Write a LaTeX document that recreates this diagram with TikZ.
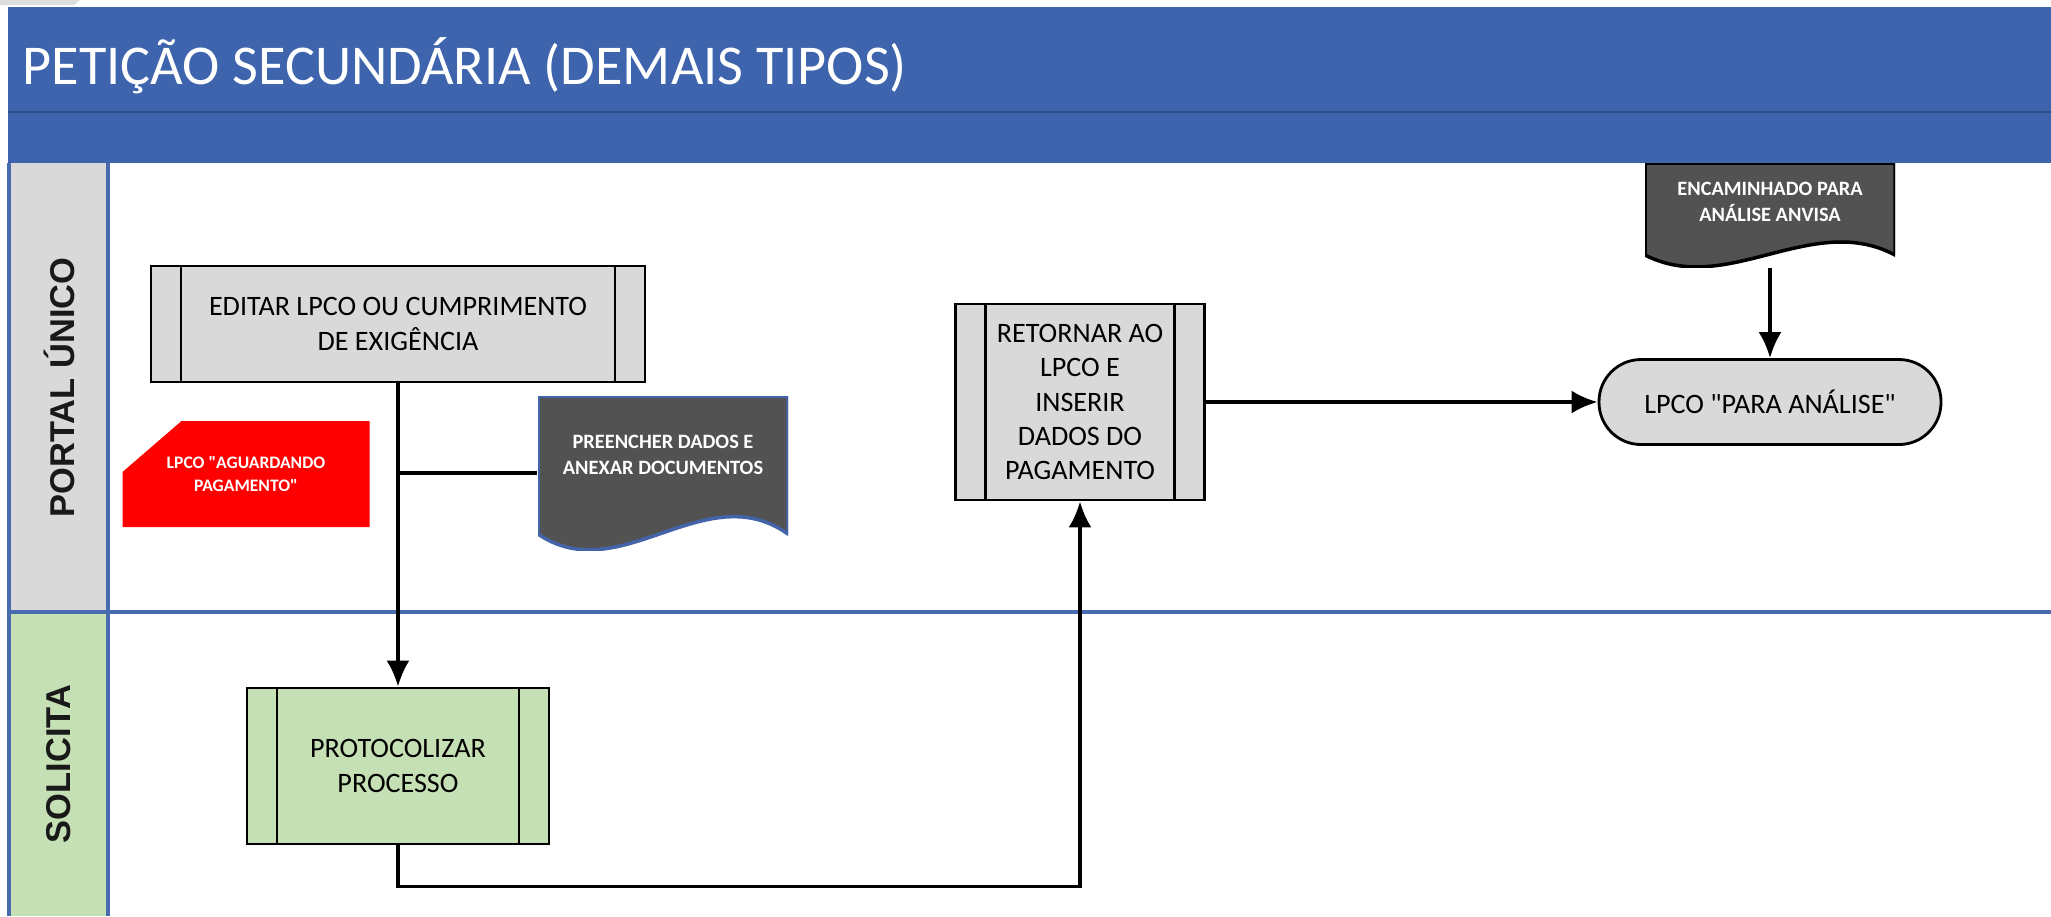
\documentclass[tikz,border=0pt]{standalone}
\usepackage{fontspec}
\setmainfont{Carlito}
\newfontfamily\lanefont{Liberation Sans}
\usepackage{tikz}
\usetikzlibrary{arrows.meta}
\usetikzlibrary{calc}
\tikzset{>={Latex[length=2.6mm,width=2.3mm]}}
\definecolor{headblue}{RGB}{62,100,173}
\definecolor{headline}{RGB}{46,76,138}
\definecolor{laneblue}{RGB}{72,106,174}
\definecolor{lanegrey}{RGB}{217,217,217}
\definecolor{lanegreen}{RGB}{197,224,180}
\definecolor{docgrey}{RGB}{82,82,82}
\definecolor{docedge}{RGB}{68,100,170}
\definecolor{tabgrey}{RGB}{221,221,221}
\tikzset{
    subproc/.style={draw, line width=0.8pt, fill=lanegrey, align=center, inner sep=0pt,
        font=\fontsize{8}{10}\selectfont,
        path picture={
            \draw[line width=0.8pt] ([xshift=3mm]path picture bounding box.north west) -- ([xshift=3mm]path picture bounding box.south west);
            \draw[line width=0.8pt] ([xshift=-3mm]path picture bounding box.north east) -- ([xshift=-3mm]path picture bounding box.south east);
        }},
    doc/.style 2 args={text=white, align=center, inner sep=0pt,
        font=\bfseries\fontsize{5.8}{7.4}\selectfont,
        path picture={
            \filldraw[fill=docgrey, draw=#1, line width=1pt] (path picture bounding box.north west)
                -- (path picture bounding box.north east)
                -- ($(path picture bounding box.south east)+(0,-16*#2)$)
                .. controls ($(path picture bounding box.south east)+(-83,-75*#2)$) and ($(path picture bounding box.south west)+(82,40*#2)$)
                .. ($(path picture bounding box.south west)+(0,-16*#2)$) -- cycle;
        }},
    status/.style={text=white, align=center, inner sep=0pt,
        font=\bfseries\fontsize{5}{6.3}\selectfont,
        path picture={
            \fill[red] ($(path picture bounding box.north west)+(59,0)$)
                -- (path picture bounding box.north east)
                -- (path picture bounding box.south east)
                -- (path picture bounding box.south west)
                -- ($(path picture bounding box.north west)+(0,51)$) -- cycle;
        }},
    terminal/.style={draw, line width=0.8pt, fill=lanegrey, rounded corners=4.2mm,
        font=\fontsize{8}{10}\selectfont},
    lanelabel/.style={rotate=90, text=black!90, font=\lanefont\bfseries\fontsize{9.8}{12}\selectfont},
    lane/.style={draw=laneblue, line width=0.9pt},
    flow/.style={draw=black, line width=1pt}
}

\begin{document}
\begin{tikzpicture}[x=0.1mm, y=-0.1mm]
    \useasboundingbox (0,0) rectangle (2051,916);
    %header
    \fill[tabgrey] (0,0) -- (80,0) -- (74,5) -- (0,5) -- cycle;
    \fill[headblue] (8,7) rectangle (2051,163);
    \draw[headline, line width=0.6pt] (8,112) -- (2051,112);
    \node[anchor=base west, inner sep=0pt, text=white, font=\fontsize{16}{19}\selectfont] (title) at (22,84) {PETIÇÃO SECUNDÁRIA (DEMAIS TIPOS)};
    %lanes
    \foreach \i/\lab/\ya/\yb/\col in {1/PORTAL ÚNICO/163/612/lanegrey, 2/SOLICITA/612/916/lanegreen}
    {
        \fill[\col] (9,\ya) rectangle (108,\yb);
        \node[lanelabel] (lane\i) at (59,{(\ya+\yb)/2}) {\lab};
    }
    \draw[lane] (9,163) -- (9,916);
    \draw[lane] (108,163) -- (108,916);
    \draw[lane] (9,612) -- (2051,612);
    %steps
    \node[subproc, minimum width=49.4mm, minimum height=11.6mm] (editar) at (398,324) {EDITAR LPCO OU CUMPRIMENTO\\DE EXIGÊNCIA};
    \node[status, minimum width=24.7mm, minimum height=10.6mm] (aguard) at (246,474) {LPCO \textquotedbl AGUARDANDO\\PAGAMENTO\textquotedbl};
    \node[doc={docedge}{1}, minimum width=25mm, minimum height=15.4mm, text depth=3.6mm] (preench) at (663,473) {PREENCHER DADOS E\\ANEXAR DOCUMENTOS};
    \node[subproc, minimum width=30.2mm, minimum height=15.6mm, fill=lanegreen] (protoc) at (398,766) {PROTOCOLIZAR\\PROCESSO};
    \node[subproc, minimum width=24.9mm, minimum height=19.6mm, font=\fontsize{8}{9.8}\selectfont] (retornar) at (1080,402) {RETORNAR AO\\LPCO E\\INSERIR\\DADOS DO\\PAGAMENTO};
    \node[terminal, minimum width=34.2mm, minimum height=8.5mm] (analise) at (1770,402) {LPCO \textquotedbl PARA ANÁLISE\textquotedbl};
    \node[doc={black}{0.75}, minimum width=25mm, minimum height=10.4mm, text depth=2.7mm] (encam) at (1770,215) {ENCAMINHADO PARA\\ANÁLISE ANVISA};
    %connectors
    \coordinate (junct) at (editar.south |- preench.west);
    \draw[flow, ->] (editar.south) -- (protoc.north);
    \draw[flow] (junct) -- (preench.west);
    \draw[flow, ->] (protoc.south) -- ++(0,41) -| (retornar.south);
    \draw[flow, ->] (retornar.east) -- (analise.west);
    \draw[flow, ->] (encam.south) -- (analise.north);
\end{tikzpicture}
\end{document}
